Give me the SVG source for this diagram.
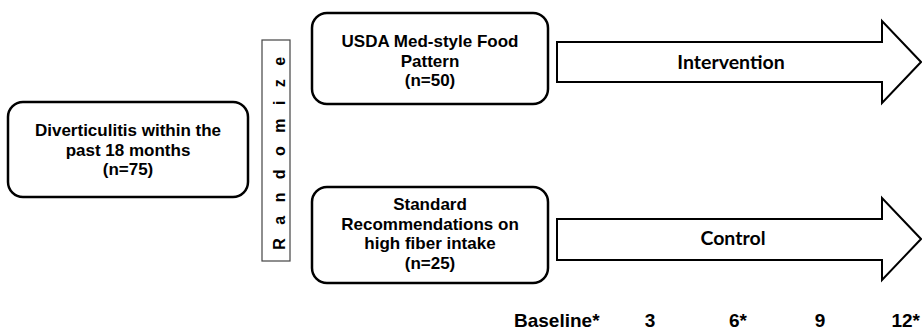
<svg xmlns="http://www.w3.org/2000/svg" width="922" height="330" viewBox="0 0 922 330">
<style>
.box{fill:#fff;stroke:#000;stroke-width:2.5}
.arrow{fill:#fff;stroke:#000;stroke-width:2}
.rbox{fill:#fff;stroke:#444;stroke-width:1.2}
.nt{font-family:"Liberation Sans",Arial,sans-serif;font-weight:bold;font-size:17px;fill:#000;text-anchor:middle}
.at{font-family:Lato,"Liberation Sans",sans-serif;font-weight:bold;font-size:19.5px;fill:#000;text-anchor:middle}
.tl{font-family:"Liberation Sans",Arial,sans-serif;font-weight:bold;font-size:19px;fill:#000}
.rt{font-family:"Liberation Sans",Arial,sans-serif;font-weight:bold;font-size:16px;fill:#000;text-anchor:middle;letter-spacing:4.5px}
</style>
<rect width="922" height="330" fill="#fff"/>
<g id="connectors">
<g id="arrow-intervention">
<polygon class="arrow" points="557,42 882,42 882,21 921,62 882,103 882,82 557,82"/>
<text class="at" x="731" y="69">Intervention</text>
</g>
<g id="arrow-control">
<polygon class="arrow" points="557,219 882,219 882,198 921,239 882,280 882,260 557,260"/>
<text class="at" x="733" y="245">Control</text>
</g>
</g>
<g id="node-diverticulitis">
<rect class="box" x="8" y="102" width="240" height="95" rx="15"/>
<text class="nt" x="128" y="136">Diverticulitis within the</text>
<text class="nt" x="128" y="155.7">past 18 months</text>
<text class="nt" x="128" y="175.3">(n=75)</text>
</g>
<g id="node-randomize">
<rect class="rbox" x="262" y="40" width="28" height="221"/>
<text class="rt" transform="translate(279,151) rotate(-90)" dominant-baseline="central">R a n d o m i z e</text>
</g>
<g id="node-usda">
<rect class="box" x="312" y="13" width="236" height="91" rx="15"/>
<text class="nt" x="430" y="47">USDA Med-style Food</text>
<text class="nt" x="430" y="66.5">Pattern</text>
<text class="nt" x="430" y="86">(n=50)</text>
</g>
<g id="node-standard">
<rect class="box" x="312" y="187" width="236" height="96" rx="15"/>
<text class="nt" x="430" y="210">Standard</text>
<text class="nt" x="430" y="229.7">Recommendations on</text>
<text class="nt" x="430" y="249.3">high fiber intake</text>
<text class="nt" x="430" y="269">(n=25)</text>
</g>
<g id="timeline">
<text class="tl" x="514" y="327">Baseline*</text>
<text class="tl" x="650" y="327" text-anchor="middle">3</text>
<text class="tl" x="738" y="327" text-anchor="middle">6*</text>
<text class="tl" x="820" y="327" text-anchor="middle">9</text>
<text class="tl" x="920" y="327" text-anchor="end">12*</text>
</g>
</svg>
